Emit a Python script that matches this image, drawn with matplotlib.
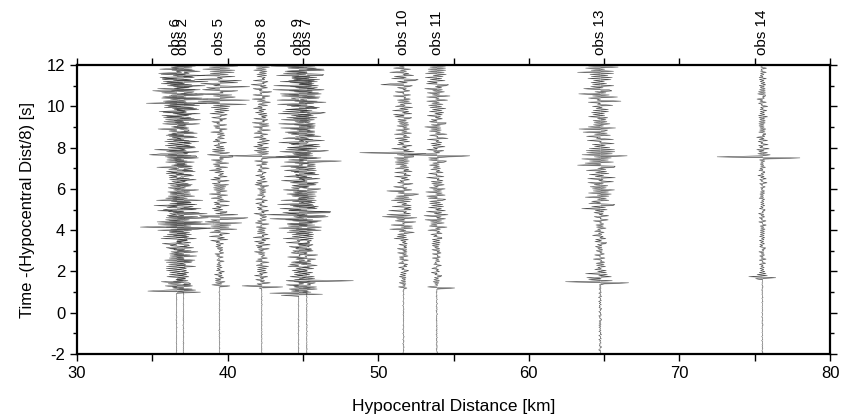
import numpy as np
import matplotlib
matplotlib.use("Agg")
import matplotlib.pyplot as plt
from matplotlib.ticker import MultipleLocator

plt.rcParams['font.family'] = ['Liberation Sans', 'DejaVu Sans']
plt.rcParams['axes.unicode_minus'] = False

# stations: name, hypocentral distance [km], onset time [s]
names = ["obs 6", "obs 2", "obs 5", "obs 8", "obs 9", "obs 7",
         "obs 10", "obs 11", "obs 13", "obs 14"]
dist = [36.6, 37.06, 39.45, 42.26, 44.7, 45.25, 51.67, 53.88, 64.73, 75.5]
onset = [1.0, 1.05, 1.3, 1.2, 0.85, 1.0, 1.2, 1.2, 1.4, 1.65]
pre_noise = [0.04, 0.04, 0.04, 0.04, 0.04, 0.04, 0.05, 0.05, 0.12, 0.05]

# envelope half-amplitude [km] in 0.5 s bins from 0 to 12 s
env_bins = {
    "obs 6":  [0, 0, 0.8, 0.8, 0.9, 0.9, 0.8, 1.0, 1.8, 1.6, 1.4, 1.0,
               0.9, 0.9, 1.0, 1.4, 1.0, 1.0, 1.1, 1.2, 1.6, 1.6, 1.5, 1.4],
    "obs 2":  [0, 0, 0.7, 0.7, 0.7, 0.8, 0.7, 0.9, 1.5, 1.4, 1.2, 0.9,
               0.8, 0.8, 0.9, 1.2, 0.9, 0.9, 1.0, 1.1, 1.5, 1.4, 1.3, 1.3],
    "obs 5":  [0, 0, 0.4, 0.35, 0.3, 0.3, 0.35, 0.8, 1.3, 1.2, 0.6, 0.55,
               0.6, 0.55, 0.5, 0.8, 0.5, 0.5, 0.5, 0.9, 1.7, 1.6, 1.4, 1.3],
    "obs 8":  [0, 0, 0.5, 0.4, 0.45, 0.4, 0.45, 0.5, 0.5, 0.45, 0.4, 0.4,
               0.45, 0.4, 0.4, 0.6, 0.5, 0.45, 0.5, 0.55, 0.5, 0.55, 0.6, 0.6],
    "obs 9":  [0, 1.0, 0.8, 0.8, 0.7, 0.7, 0.7, 0.9, 1.2, 1.6, 1.1, 1.0,
               0.9, 0.9, 1.0, 1.4, 1.1, 1.1, 1.2, 1.2, 1.3, 1.3, 1.4, 1.4],
    "obs 7":  [0, 0.5, 0.7, 0.8, 0.6, 0.6, 0.6, 0.8, 1.1, 1.5, 1.0, 0.9,
               0.8, 0.8, 0.9, 1.2, 1.0, 1.0, 1.1, 1.1, 1.2, 1.2, 1.3, 1.3],
    "obs 10": [0, 0, 0.3, 0.25, 0.3, 0.3, 0.35, 0.6, 0.7, 0.9, 1.0, 0.9,
               0.6, 0.6, 0.6, 0.8, 0.5, 0.5, 0.55, 0.6, 0.6, 0.6, 0.9, 0.8],
    "obs 11": [0, 0, 0.3, 0.3, 0.3, 0.3, 0.35, 0.4, 0.6, 0.7, 0.7, 0.6,
               0.55, 0.6, 0.6, 0.8, 0.7, 0.6, 0.65, 0.7, 0.65, 0.7, 0.75, 0.8],
    "obs 13": [0, 0, 0.7, 0.8, 0.4, 0.4, 0.4, 0.45, 0.5, 0.5, 1.0, 1.1,
               0.8, 0.8, 1.2, 1.3, 0.9, 1.1, 0.8, 0.9, 1.1, 1.2, 1.3, 1.3],
    "obs 14": [0, 0, 0, 0.5, 0.2, 0.2, 0.2, 0.2, 0.25, 0.25, 0.2, 0.25,
               0.25, 0.25, 0.3, 0.5, 0.3, 0.3, 0.3, 0.3, 0.3, 0.3, 0.3, 0.3],
}

# large single swings: (time [s], right amp [km], left amp [km])
spikes = {
    "obs 6":  [(1.0, 1.6, 1.9), (4.1, 2.2, 2.4), (7.6, 1.3, 1.8), (10.1, 1.2, 2.0)],
    "obs 2":  [(4.3, 2.0, 1.2), (7.5, 1.0, 1.2)],
    "obs 5":  [(1.3, 0.7, 0.5), (4.6, 1.9, 1.0), (10.3, 2.0, 1.1), (7.6, 0.9, 0.8)],
    "obs 8":  [(1.25, 1.4, 1.3), (7.55, 2.6, 2.2)],
    "obs 9":  [(0.9, 1.6, 1.9), (4.7, 1.8, 2.2), (7.5, 1.5, 1.5)],
    "obs 7":  [(1.55, 3.1, 0.8), (7.35, 2.3, 1.2), (4.9, 1.6, 1.2)],
    "obs 10": [(7.7, 1.5, 2.9), (11.0, 0.6, 1.5), (4.6, 0.9, 1.4)],
    "obs 11": [(1.2, 1.2, 0.6), (7.6, 2.2, 1.9)],
    "obs 13": [(1.45, 1.9, 2.3), (7.6, 1.8, 1.2), (7.1, 1.0, 1.5),
               (8.85, 0.5, 1.4), (11.6, 0.9, 1.5)],
    "obs 14": [(7.5, 2.5, 3.0), (1.7, 0.9, 0.9)],
}

# hand-typed wiggle shapes, mixed and tiled to give the oscillation
wig_a = [0.9, -0.7, 0.4, -1.0, 0.6, -0.3, 0.8, -0.9, 0.2, -0.5, 1.0, -0.6,
         0.3, -0.8, 0.7, -0.4, 0.9, -1.0, 0.5, -0.2, 0.6, -0.9, 0.8, -0.3,
         0.4, -0.7, 1.0, -0.5, 0.2, -0.6, 0.9, -0.8, 0.3, -1.0, 0.7, -0.4, 0.5]
wig_b = [0.3, 0.8, -0.5, -0.9, 0.6, 1.0, -0.2, -0.7, 0.4, 0.9, -0.8, -0.3,
         0.7, 0.2, -1.0, -0.6, 0.5, 0.9, -0.4, -0.8, 0.1, 0.6, -0.7]

dt = 0.05
gain = 1.3
t = np.arange(-2.0, 12.0, dt)

fig = plt.figure(figsize=(8.41, 4.18), dpi=100)
ax = fig.add_axes([0.0916, 0.153, 0.8954, 0.6915])

for k, name in enumerate(names):
    d = dist[k]
    idx = np.arange(len(t))
    ca = np.array([wig_a[(i + 5 * k) % len(wig_a)] for i in idx])
    cb = np.array([wig_b[(3 * i + 7 * k) % len(wig_b)] for i in idx])
    carrier = 0.7 * ca + 0.3 * cb
    bins = np.array(env_bins[name])
    bi = np.clip((t / 0.5).astype(int), 0, len(bins) - 1)
    env = bins[bi] * gain
    env = np.where(t < onset[k], pre_noise[k], env)
    s = env * carrier
    for (ts, ra, la) in spikes[name]:
        i = int(round((ts + 2.0) / dt))
        s[i] = ra
        s[i + 1] = -la
    x = d + s
    ax.fill_betweenx(t, d, x, color='#a3a3a3', lw=0)
    ax.plot(x, t, color='#333333', lw=0.3)
    ax.text(d, 12.5, name, rotation=90, ha='center', va='bottom',
            fontsize=11, clip_on=False)

ax.set_xlim(30, 80)
ax.set_ylim(-2, 12)
ax.xaxis.set_major_locator(MultipleLocator(10))
ax.xaxis.set_minor_locator(MultipleLocator(5))
ax.yaxis.set_major_locator(MultipleLocator(2))
ax.yaxis.set_minor_locator(MultipleLocator(1))
ax.tick_params(which='both', direction='out', top=True, right=True,
               labelsize=12, width=1.0)
ax.tick_params(which='major', length=5)
ax.tick_params(which='minor', length=3)
ax.tick_params(axis='x', which='minor', length=5)
for sp in ax.spines.values():
    sp.set_linewidth(1.6)

ax.set_xlabel("Hypocentral Distance [km]", fontsize=12.5, labelpad=13)
ax.set_ylabel("Time -(Hypocentral Dist/8) [s]", fontsize=12, labelpad=8)

fig.savefig("out.png", dpi=100)
